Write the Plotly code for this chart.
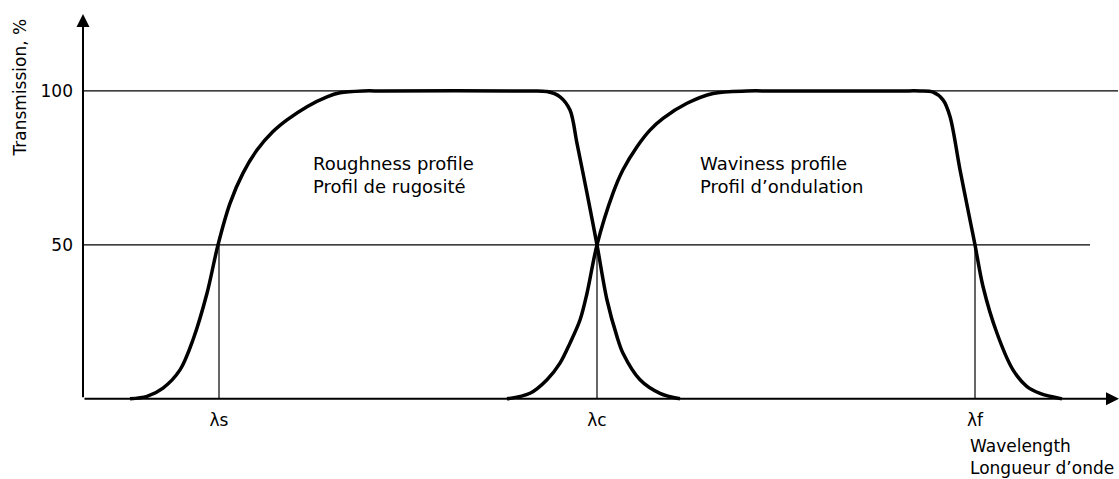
import plotly.graph_objects as go

# ---- data (wavelength in arbitrary units, transmission in %) ----
rough_x = [47, 64, 80, 97, 110, 124, 135, 147, 160, 174, 190, 204, 224, 244, 257, 280, 300,
           444, 464, 477, 487, 494, 504, 514, 524, 534, 540, 557, 577, 597]
rough_y = [0, 0.8, 3.5, 9.4, 19.2, 34.3, 50, 63.5, 73.3, 80.8, 86.8, 90.6, 94.9, 98.1, 99.4, 100, 100,
           100, 99.8, 98.1, 93.8, 83, 66.8, 50, 32.1, 20.2, 14.8, 6.2, 1.8, 0]

wav_x = [424, 447, 464, 477, 487, 497, 504, 514, 530, 540, 554, 567, 580, 604, 630, 664, 690,
         817, 837, 850, 860, 867, 877, 887, 892, 900, 914, 930, 944, 957, 979]
wav_y = [0, 1.8, 6.2, 11.6, 18.1, 25.6, 34.3, 50, 66.8, 74.4, 81.9, 87.3, 91.1, 96, 99.2, 100, 100,
         100, 100, 99.6, 97.1, 91.7, 74.4, 58.1, 50, 36.5, 21.3, 9.4, 4, 1.8, 0]

cutoffs = [136, 514, 892]
cutoff_labels = ["λs", "λc", "λf"]
levels = [50, 100]
level_labels = ["50", "100"]
level_ends = [1007, 1035]

x_max = 1036
y_max = 125

FONT = "DejaVu Sans"
fig = go.Figure()

# reference lines
for lv, le in zip(levels, level_ends):
    fig.add_trace(go.Scatter(x=[0, le], y=[lv, lv], mode="lines",
                             line=dict(color="black", width=1.2), hoverinfo="skip"))
for c in cutoffs:
    fig.add_trace(go.Scatter(x=[c, c], y=[0, levels[0]], mode="lines",
                             line=dict(color="black", width=1.2), hoverinfo="skip"))

# curves
for xs, ys in [(rough_x, rough_y), (wav_x, wav_y)]:
    fig.add_trace(go.Scatter(x=xs, y=ys, mode="lines",
                             line=dict(color="black", width=3.5, shape="spline", smoothing=0.9),
                             hoverinfo="skip"))

# axes arrows
fig.add_annotation(x=0, y=y_max, ax=0, ay=0, xref="x", yref="y", axref="x", ayref="y",
                   text="", showarrow=True, arrowhead=2, arrowsize=1.3, arrowwidth=2, arrowcolor="black")
fig.add_annotation(x=x_max, y=0, ax=0, ay=0, xref="x", yref="y", axref="x", ayref="y",
                   text="", showarrow=True, arrowhead=2, arrowsize=1.3, arrowwidth=2, arrowcolor="black")

txt = dict(family=FONT, size=17, color="black")
big = dict(family=FONT, size=18, color="black")
# region labels
for x0, lines in [(228, ["Roughness profile", "Profil de rugosité"]),
                  (615, ["Waviness profile", "Profil d’ondulation"])]:
    for yy, t in zip([76.5, 69.0], lines):
        fig.add_annotation(x=x0, y=yy, xref="x", yref="y", text=t, showarrow=False,
                           xanchor="left", yanchor="middle", font=big)

# axis titles
fig.add_annotation(x=0.855, y=-0.105, xref="paper", yref="paper", text="Wavelength", showarrow=False,
                   xanchor="left", yanchor="middle", font=txt)
fig.add_annotation(x=0.855, y=-0.162, xref="paper", yref="paper", text="Longueur d’onde", showarrow=False,
                   xanchor="left", yanchor="middle", font=txt)
fig.add_annotation(x=-0.056, y=101, xref="paper", yref="y", text="Transmission, %", showarrow=False,
                   textangle=-90, xanchor="center", yanchor="middle", font=txt)

fig.update_layout(
    width=1119, height=479,
    margin=dict(l=78, r=0, t=14, b=74),
    paper_bgcolor="white", plot_bgcolor="white",
    showlegend=False,
    xaxis=dict(range=[-5, x_max], showgrid=False, zeroline=False, showline=False,
               tickvals=cutoffs, ticktext=cutoff_labels, ticks="",
               tickfont=txt, ticklabelstandoff=3, fixedrange=True),
    yaxis=dict(range=[-2, y_max], showgrid=False, zeroline=False, showline=False,
               tickvals=levels, ticktext=level_labels, ticks="",
               tickfont=txt, ticklabelstandoff=4, fixedrange=True),
)

fig.write_html("out.html", config={"displayModeBar": False},
               post_script="document.body.style.margin='0px';")
